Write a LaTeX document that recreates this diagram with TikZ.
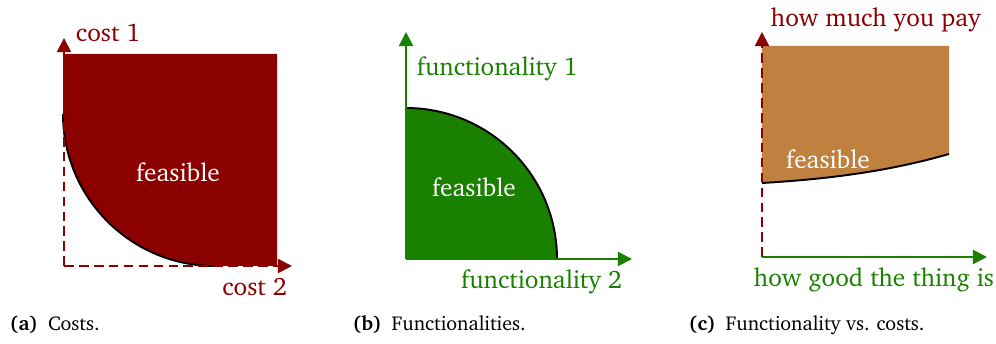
\documentclass[tikz,border=0pt]{standalone}
\usepackage[T1]{fontenc}
\usepackage{charter}
\usetikzlibrary{arrows.meta}
\definecolor{costred}{RGB}{139,0,0}
\definecolor{funcgreen}{RGB}{26,128,0}
\definecolor{paybrown}{RGB}{191,128,64}
\begin{document}
\begin{tikzpicture}[x=0.02cm, y=0.02cm, line width=1.1pt,
    axis/.style = {-{Triangle[length=8pt,width=8pt]}},
    lbl/.style = {inner sep=0pt, font=\fontsize{14.4}{17}\selectfont},
    subcap/.style = {inner sep=0pt, anchor=base west, font=\fontsize{11.4}{13}\selectfont}]
    \useasboundingbox (0,0) rectangle (996,344);
    % (a) costs
    \fill[costred] (215,78) arc (270:180:152) -- (63,290) -- (277,290) -- (277,78) -- cycle;
    \draw[black] (215,78) arc (270:180:152);
    \coordinate (a0) at (64,78);
    \coordinate (a1) at (64,306);
    \coordinate (a2) at (292,78);
    \draw[axis, costred, dash pattern=on 5.5pt off 3pt] (a0) -- (a1);
    \draw[axis, costred, dash pattern=on 5.5pt off 3pt] (a0) -- (a2);
    \node[lbl, costred, anchor=base west] (c1) at (75,302) {cost 1};
    \node[lbl, costred, anchor=base east] (c2) at (288,48) {cost 2};
    \node[lbl, white] (fa) at (178,172) {feasible};
    \node[subcap] (capa) at (9,13) {\textbf{(a)}\enspace Costs.};
    % (b) functionalities
    \fill[funcgreen] (406,85) -- (557,85) arc (0:90:151) -- cycle;
    \draw[black] (557,85) arc (0:90:151);
    \coordinate (b0) at (406,85);
    \coordinate (b1) at (406,312);
    \coordinate (b2) at (632,85);
    \draw[axis, funcgreen] (b0) -- (b1);
    \draw[axis, funcgreen] (b0) -- (b2);
    \node[lbl, funcgreen, anchor=base west] (f1) at (416,268) {functionality 1};
    \node[lbl, funcgreen, anchor=base east] (f2) at (623,55) {functionality 2};
    \node[lbl, white] (fb) at (474,157) {feasible};
    \node[subcap] (capb) at (352,13) {\textbf{(b)}\enspace Functionalities.};
    % (c) functionality vs. costs
    \fill[paybrown] (762,161) .. controls (830,165) and (890,173) .. (949,190)
        -- (949,298) -- (762,298) -- cycle;
    \draw[black] (762,161) .. controls (830,165) and (890,173) .. (949,190);
    \coordinate (c0) at (762,87);
    \coordinate (cu) at (762,312);
    \coordinate (cr) at (987,87);
    \draw[axis, costred, dash pattern=on 5.5pt off 3pt] (c0) -- (cu);
    \draw[axis, funcgreen] (c0) -- (cr);
    \node[lbl, costred, anchor=base west] (pay) at (770,317) {how much you pay};
    \node[lbl, funcgreen, anchor=base west] (good) at (753,57) {how good the thing is};
    \node[lbl, white] (fc) at (828,185) {feasible};
    \node[subcap] (capc) at (688,13) {\textbf{(c)}\enspace Functionality vs. costs.};
\end{tikzpicture}
\end{document}
